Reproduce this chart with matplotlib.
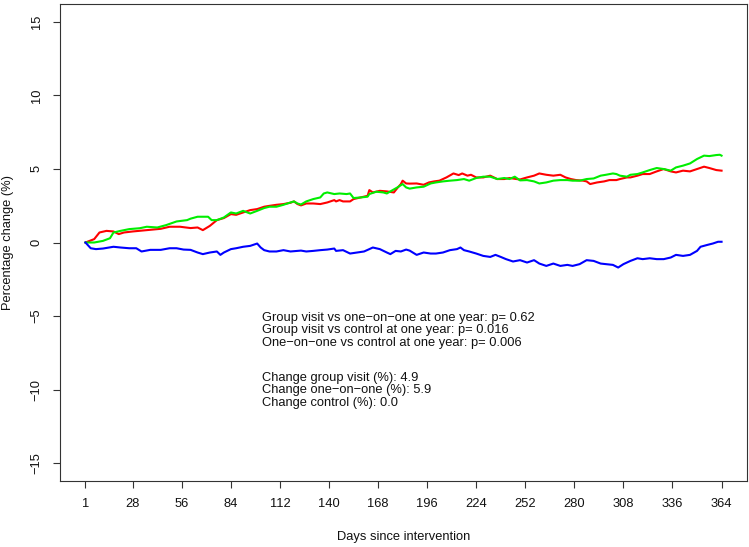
import matplotlib
matplotlib.use("Agg")
from matplotlib import pyplot as plt

plt.rcParams['font.family'] = ['Liberation Sans', 'DejaVu Sans']

# days since intervention (x) and percentage change (y)
group_days = [1, 6, 9, 13, 17, 20, 23, 28, 36, 44, 49, 55, 61, 65, 68, 72, 76, 80, 84, 87,
              91, 95, 99, 103, 106, 110, 114, 118, 120, 122, 124, 127, 131, 135, 139, 143,
              144, 146, 148, 152, 154, 158, 162, 163, 165, 169, 173, 177, 179, 181, 182,
              184, 186, 190, 194, 197, 200, 203, 207, 211, 214, 216, 219, 221, 224, 228,
              232, 236, 240, 243, 247, 249, 253, 257, 260, 264, 268, 272, 275, 278, 281,
              285, 287, 289, 293, 297, 300, 304, 306, 310, 312, 316, 319, 323, 327, 331,
              335, 338, 342, 346, 350, 354, 357, 361, 364]
group_vals = [0.00, 0.23, 0.68, 0.79, 0.75, 0.57, 0.68, 0.75, 0.84, 0.93, 1.07, 1.07, 0.98,
              1.02, 0.84, 1.13, 1.52, 1.66, 1.93, 1.88, 2.04, 2.20, 2.27, 2.43, 2.49, 2.56,
              2.61, 2.70, 2.79, 2.61, 2.52, 2.65, 2.65, 2.61, 2.72, 2.88, 2.79, 2.88, 2.79,
              2.79, 2.95, 3.06, 3.17, 3.56, 3.40, 3.51, 3.47, 3.40, 3.70, 3.97, 4.20, 4.01,
              4.00, 4.01, 3.92, 4.08, 4.15, 4.20, 4.42, 4.69, 4.58, 4.69, 4.54, 4.60, 4.42,
              4.42, 4.54, 4.31, 4.31, 4.38, 4.31, 4.28, 4.42, 4.54, 4.69, 4.60, 4.54, 4.60,
              4.42, 4.31, 4.24, 4.20, 4.15, 3.97, 4.08, 4.15, 4.24, 4.24, 4.31, 4.42, 4.42,
              4.54, 4.65, 4.65, 4.83, 4.99, 4.83, 4.76, 4.88, 4.83, 4.99, 5.15, 5.06, 4.92,
              4.88]

one_days = [1, 6, 11, 15, 17, 21, 26, 32, 36, 42, 47, 53, 59, 61, 65, 68, 71, 73, 76, 80,
            84, 87, 91, 95, 99, 103, 106, 110, 114, 118, 120, 122, 124, 127, 131, 135, 137,
            139, 143, 146, 150, 152, 154, 158, 162, 163, 167, 171, 173, 175, 179, 182, 184,
            186, 190, 194, 198, 201, 205, 209, 213, 217, 220, 224, 228, 232, 236, 240, 243,
            246, 249, 253, 257, 260, 264, 268, 272, 276, 279, 283, 287, 291, 295, 298, 302,
            304, 306, 310, 312, 316, 319, 323, 327, 331, 335, 338, 342, 346, 350, 354, 357,
            361, 363, 364]
one_vals = [0.00, 0.00, 0.11, 0.29, 0.68, 0.79, 0.91, 0.97, 1.07, 1.02, 1.18, 1.43, 1.52,
            1.62, 1.75, 1.75, 1.75, 1.52, 1.52, 1.70, 2.04, 1.97, 2.15, 1.97, 2.15, 2.34,
            2.43, 2.43, 2.56, 2.72, 2.79, 2.65, 2.58, 2.79, 2.95, 3.06, 3.33, 3.40, 3.29,
            3.33, 3.29, 3.33, 3.02, 3.06, 3.11, 3.29, 3.45, 3.40, 3.33, 3.47, 3.74, 3.97,
            3.74, 3.66, 3.74, 3.79, 4.01, 4.08, 4.15, 4.20, 4.24, 4.31, 4.20, 4.38, 4.47,
            4.47, 4.31, 4.38, 4.31, 4.47, 4.22, 4.24, 4.15, 4.01, 4.08, 4.20, 4.24, 4.24,
            4.20, 4.20, 4.31, 4.35, 4.54, 4.60, 4.69, 4.65, 4.54, 4.47, 4.60, 4.65, 4.76,
            4.92, 5.06, 4.99, 4.88, 5.10, 5.22, 5.37, 5.67, 5.90, 5.87, 5.94, 5.96, 5.90]

control_days = [1, 4, 7, 11, 17, 21, 26, 30, 33, 38, 44, 49, 53, 57, 61, 65, 68, 72, 76,
                78, 80, 84, 87, 91, 95, 99, 101, 103, 106, 110, 114, 118, 124, 127, 131,
                135, 139, 143, 144, 148, 152, 156, 160, 163, 165, 169, 173, 175, 178, 181,
                184, 186, 190, 194, 198, 201, 205, 209, 213, 215, 217, 220, 224, 228, 232,
                235, 238, 241, 245, 249, 253, 257, 260, 264, 268, 272, 276, 279, 283, 287,
                291, 295, 298, 302, 305, 308, 312, 316, 319, 323, 327, 331, 335, 338, 342,
                346, 350, 352, 356, 359, 362, 364]
control_vals = [0.00, -0.39, -0.45, -0.41, -0.29, -0.34, -0.39, -0.39, -0.61, -0.50, -0.50,
                -0.39, -0.39, -0.48, -0.50, -0.68, -0.79, -0.68, -0.61, -0.84, -0.68, -0.45,
                -0.39, -0.29, -0.23, -0.07, -0.34, -0.52, -0.61, -0.61, -0.52, -0.61, -0.55,
                -0.61, -0.57, -0.52, -0.48, -0.41, -0.57, -0.52, -0.75, -0.68, -0.61, -0.45,
                -0.34, -0.45, -0.68, -0.79, -0.57, -0.61, -0.48, -0.55, -0.84, -0.68, -0.75,
                -0.75, -0.68, -0.52, -0.45, -0.34, -0.52, -0.61, -0.75, -0.91, -0.98, -0.84,
                -0.98, -1.13, -1.29, -1.20, -1.36, -1.20, -1.43, -1.59, -1.43, -1.59, -1.52,
                -1.59, -1.47, -1.20, -1.25, -1.43, -1.47, -1.52, -1.70, -1.47, -1.25, -1.07,
                -1.13, -1.07, -1.13, -1.13, -1.02, -0.84, -0.91, -0.84, -0.57, -0.29, -0.16,
                -0.07, 0.05, 0.05]

x_ticks = [1, 28, 56, 84, 112, 140, 168, 196, 224, 252, 280, 308, 336, 364]
y_ticks = [-15, -10, -5, 0, 5, 10, 15]

p_notes = ["Group visit vs one\u2212on\u2212one at one year: p= 0.62",
           "Group visit vs control at one year: p= 0.016",
           "One\u2212on\u2212one vs control at one year: p= 0.006"]
change_notes = ["Change group visit (%): 4.9",
                "Change one\u2212on\u2212one (%): 5.9",
                "Change control (%): 0.0"]

W, H = 749, 547
FS = 9.3
fig = plt.figure(figsize=(W / 100, H / 100), dpi=100)
ax = fig.add_axes([60 / W, 1 - 481 / H, (747 - 60) / W, (481 - 4) / H])

ax.plot(group_days, group_vals, color='#ff0000', lw=1.5)
ax.plot(one_days, one_vals, color='#00ee00', lw=1.5)
ax.plot(control_days, control_vals, color='#0000ff', lw=1.5)

ax.set_xlim(1 - 0.04 * 363, 364 + 0.04 * 363)
ax.set_ylim(-16.2, 16.2)
ax.set_xticks(x_ticks)
ax.set_xticklabels([str(d) for d in x_ticks])
ax.set_yticks(y_ticks)
ax.set_yticklabels([str(v).replace('-', '\u2212') for v in y_ticks], rotation=90, va='center')
ax.tick_params(direction='out', length=5, width=0.8, color='#333333', labelsize=FS,
               labelcolor='#111111', pad=7.5)
for s in ax.spines.values():
    s.set_linewidth(0.8)
    s.set_color('#333333')

# two blocks of notes inside the plot
for i, line in enumerate(p_notes):
    ax.text(101.5, -5.1 - 0.85 * i, line, fontsize=FS, color='#111111', va='center', ha='left')
for i, line in enumerate(change_notes):
    ax.text(101.5, -9.2 - 0.85 * i, line, fontsize=FS, color='#111111', va='center', ha='left')

fig.text(8 / W, 1 - 242 / H, 'Percentage change (%)', rotation=90, ha='center', va='center',
         fontsize=FS, color='#111111')
fig.text(403.5 / W, 1 - 537 / H, 'Days since intervention', ha='center', va='center',
         fontsize=FS, color='#111111')

fig.savefig('out.png', dpi=100)
